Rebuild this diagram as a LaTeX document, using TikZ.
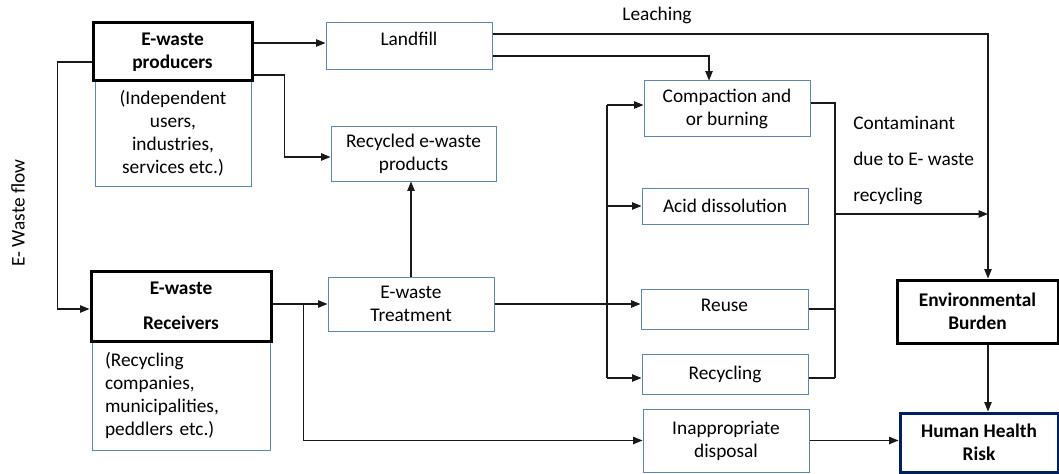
\documentclass[tikz,border=0pt]{standalone}
\usepackage{fontspec}
\setmainfont{Carlito}
\usetikzlibrary{arrows.meta,calc}
\definecolor{boxblue}{RGB}{91,134,183}
\definecolor{navy}{RGB}{0,32,96}
\definecolor{lineblack}{RGB}{25,25,25}
\tikzset{
 txt/.style={font=\fontsize{14.5}{17.25}\selectfont},
 box/.style={draw=boxblue, line width=0.75pt, fill=white, align=center, inner sep=0pt, txt},
 bbox/.style={draw=black, line width=2.25pt, fill=white, align=center, inner sep=0pt, font=\fontsize{14.5}{17.25}\selectfont\bfseries},
 arr/.style={draw=lineblack, line width=0.8pt, -{Triangle[length=7pt,width=5.5pt]}},
 ln/.style={draw=lineblack, line width=0.8pt},
 lbl/.style={inner sep=0pt, txt}
}
\begin{document}
\begin{tikzpicture}[x=0.75pt,y=-0.75pt]
\useasboundingbox (0,0) rectangle (1059,474);
% left column
\node[box, minimum width=117pt, minimum height=79.5pt] (prodsub) at (173,133)
  {(Independent\\users,\\industries,\\services etc.)};
\node[bbox, minimum width=119.25pt, minimum height=43.5pt] (prod) at (172.5,52) {E-waste\\producers};
\node[box, minimum width=133.5pt, minimum height=81.75pt, text width=114pt, align=left, inner xsep=9.75pt] (recvsub) at (181,395.5)
  {(Recycling\\companies,\\municipalities,\\peddlers etc.)};
\node[bbox, minimum width=135pt, minimum height=52.5pt] (recv) at (181,306) {E-waste\\[9pt]Receivers};
% middle column
\node[box, minimum width=124.5pt, minimum height=35.25pt, text height=10pt, text depth=11pt] (landfill) at (409,46.5) {Landfill};
\node[box, minimum width=123.75pt, minimum height=40.5pt] (recycled) at (413.5,154) {Recycled e-waste\\products};
\node[box, minimum width=124.5pt, minimum height=40.5pt] (treat) at (411,304) {E-waste\\Treatment};
% right-middle column
\node[box, minimum width=124.5pt, minimum height=42pt] (compact) at (727,109) {Compaction and\\or burning};
\node[box, minimum width=124.5pt, minimum height=27pt] (acid) at (725,206) {Acid dissolution};
\node[box, minimum width=125.25pt, minimum height=30pt, text height=10pt, text depth=6pt] (reuse) at (724.5,309) {Reuse};
\node[box, minimum width=124.5pt, minimum height=30pt] (recyc) at (725,374) {Recycling};
\node[box, minimum width=124.5pt, minimum height=47.25pt] (inapp) at (726,440.5) {Inappropriate\\disposal};
% right column
\node[bbox, minimum width=120.75pt, minimum height=47.25pt] (env) at (977.5,311.5) {Environmental\\Burden};
\node[bbox, draw=navy, minimum width=118.5pt, minimum height=44.25pt] (hhr) at (979,442.5) {Human Health\\Risk};
% labels
\node[lbl] (leach) at (657,15) {Leaching};
\node[lbl, anchor=west, align=left, font=\fontsize{14.5}{27}\selectfont] (contam) at (853,161) {Contaminant\\due to E- waste\\recycling};
\node[lbl, rotate=90] (flow) at (18,213) {E- Waste flow};
% helper coordinates
\coordinate (vtop) at (607,105);
\coordinate (vbot) at (607,378);
\coordinate (rc) at (835,214);
\coordinate (ev) at (988,0);
% connectors
\draw[arr] ([yshift=6.75pt]prod.east) -- ([yshift=6.75pt]prod.east -| landfill.west);
\draw[arr] ([yshift=-17.25pt]prod.east) -- ++(23.25pt,0) |- ([yshift=-2.25pt]recycled.west);
\draw[arr] ([yshift=-7.5pt]prod.west) -- ++(-25.5pt,0) |- ([yshift=-2.25pt]recv.west);
\draw[arr] (treat.north) -- (treat.north |- recycled.south);
\draw[arr] (recv.east |- treat.west) -- (treat.west);
\draw[arr] ([xshift=23.25pt]recv.east |- treat.west) |- (inapp.west);
\draw[arr] (treat.east) -- (treat.east -| reuse.west);
\draw[ln] (vtop) -- (vbot);
\draw[arr] (vtop) -- (vtop -| compact.west);
\draw[arr] (vbot |- acid.west) -- (acid.west);
\draw[arr] (vbot) -- (vbot -| recyc.west);
\draw[ln] ([yshift=4.5pt]compact.east) -| ([yshift=-3pt]recyc.east -| rc);
\draw[ln] (reuse.east) -- (reuse.east -| rc);
\draw[ln] ([yshift=-3pt]recyc.east) -- ([yshift=-3pt]recyc.east -| rc);
\draw[arr] (rc) -- (rc -| ev);
\draw[arr] ([yshift=9.375pt]landfill.east) -| (ev |- env.north);
\draw[arr] ([yshift=-7.125pt]landfill.east) -| ([xshift=-13.5pt]compact.north);
\draw[arr] (env.south -| ev) -- (hhr.north -| ev);
\draw[arr] (inapp.east) -- (inapp.east -| hhr.west);
\end{tikzpicture}
\end{document}
